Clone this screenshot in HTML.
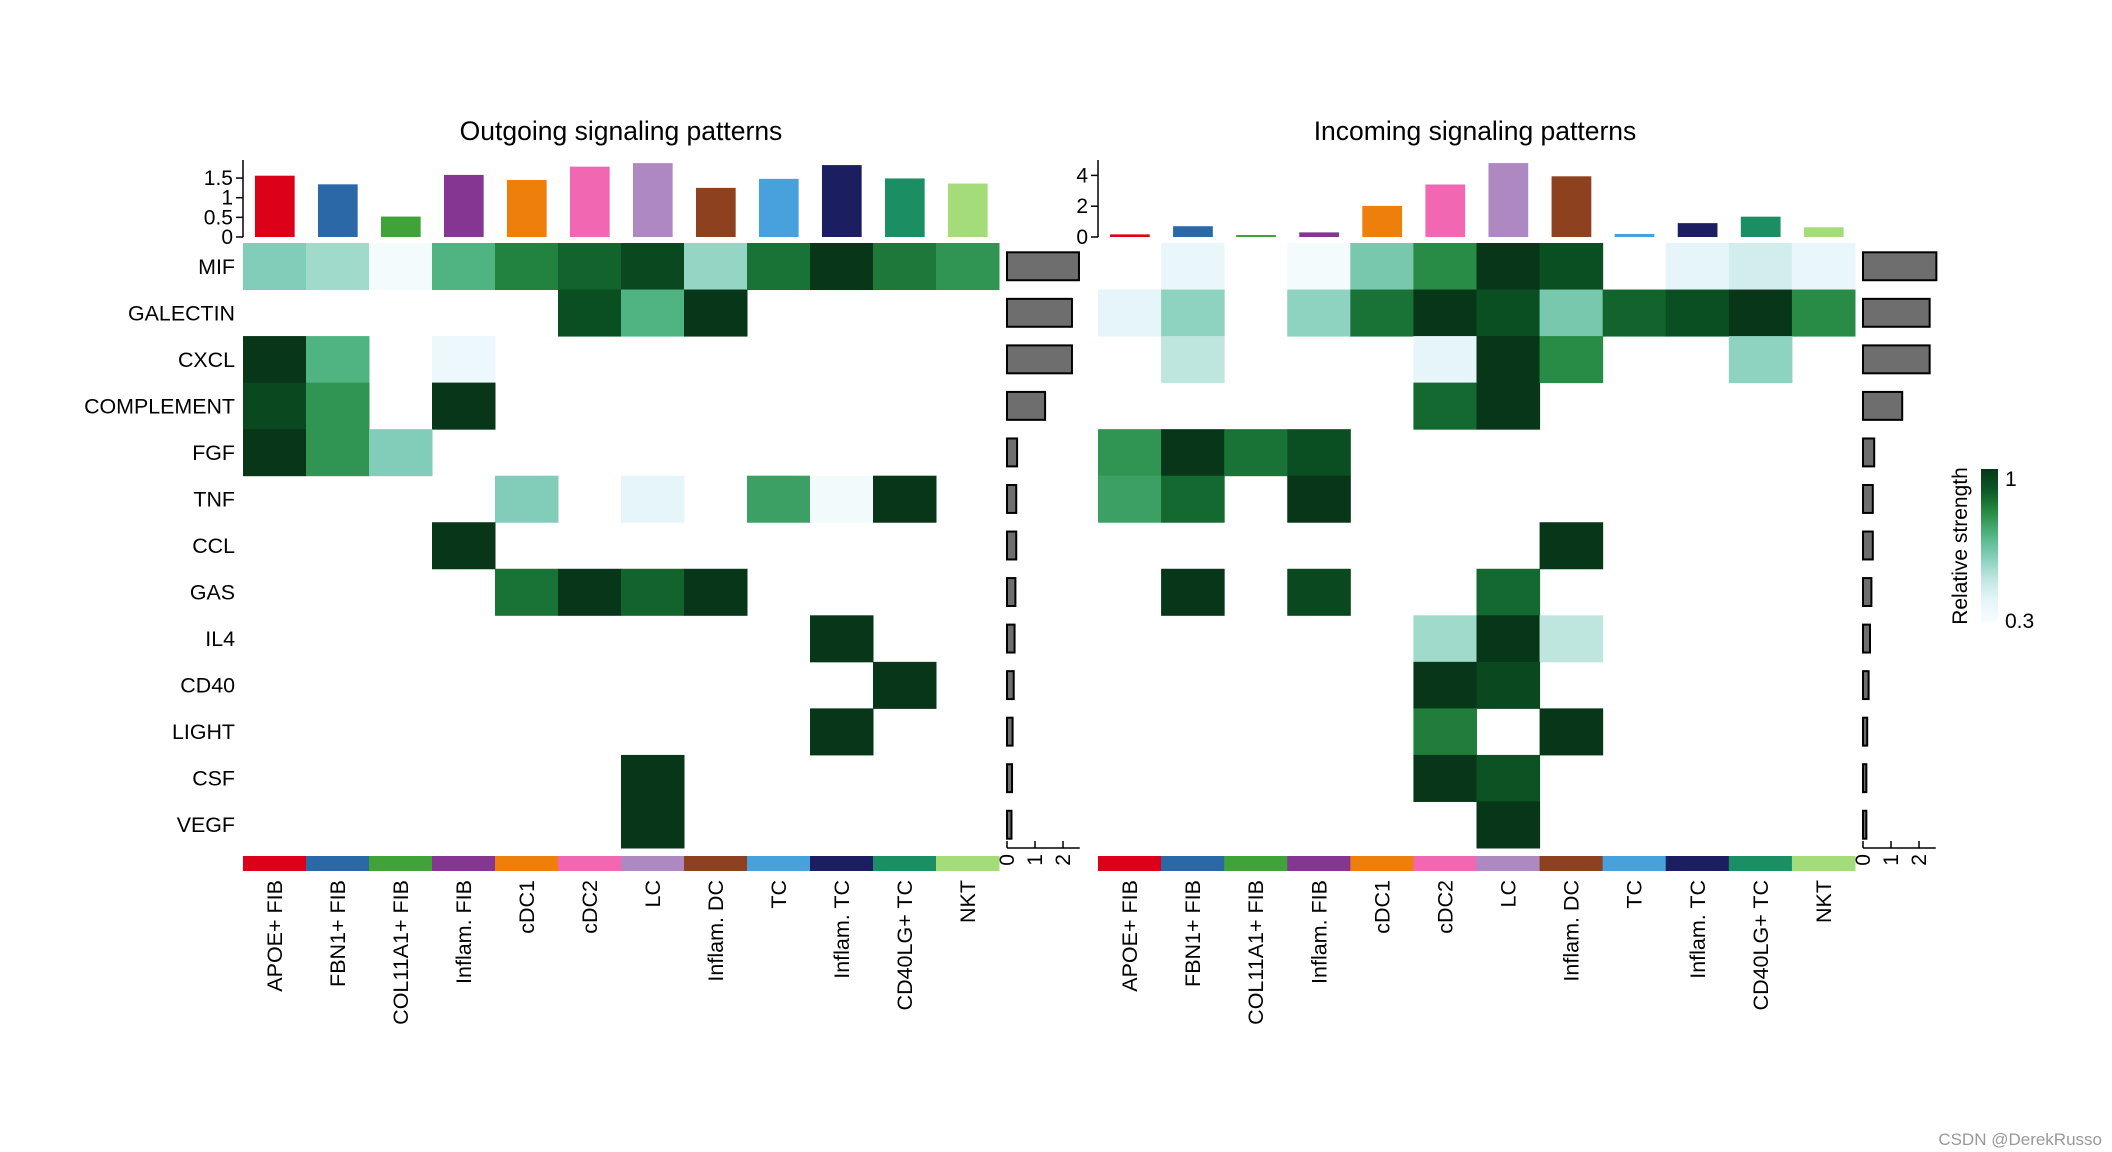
<!DOCTYPE html>
<html><head><meta charset="utf-8"><style>
html,body{margin:0;padding:0;background:#fff;}
svg{display:block;font-family:"Liberation Sans",Arial,sans-serif;}
</style></head><body>
<svg id="chart" width="2112" height="1152" viewBox="0 0 2112 1152" xmlns="http://www.w3.org/2000/svg"></svg>
<script>
const cellTypes = ["APOE+ FIB","FBN1+ FIB","COL11A1+ FIB","Inflam. FIB","cDC1","cDC2","LC","Inflam. DC","TC","Inflam. TC","CD40LG+ TC","NKT"];
const groupColors = ["#dc0019","#2b68a8","#3fa338","#843692","#ee7f0b","#f167b1","#ae89c1","#8e411f","#47a1dc","#1b1f61","#1b8f63","#a5dc7a"];
const pathways = ["MIF","GALECTIN","CXCL","COMPLEMENT","FGF","TNF","CCL","GAS","IL4","CD40","LIGHT","CSF","VEGF"];
const outTop = [1.56,1.34,0.52,1.58,1.45,1.79,1.88,1.25,1.48,1.83,1.49,1.36];
const outSide = [2.57,2.32,2.32,1.36,0.36,0.33,0.33,0.3,0.27,0.24,0.2,0.18,0.16];
const outMatrix = [
 [.6,.55,.32,.7,.82,.88,.95,.57,.85,1,.84,.78],
 [0,0,0,0,0,.93,.7,1,0,0,0,0],
 [1,.7,0,.36,0,0,0,0,0,0,0,0],
 [.95,.78,0,1,0,0,0,0,0,0,0,0],
 [1,.78,.6,0,0,0,0,0,0,0,0,0],
 [0,0,0,0,.6,0,.4,0,.75,.33,1,0],
 [0,0,0,1,0,0,0,0,0,0,0,0],
 [0,0,0,0,.85,1,.88,1,0,0,0,0],
 [0,0,0,0,0,0,0,0,0,1,0,0],
 [0,0,0,0,0,0,0,0,0,0,1,0],
 [0,0,0,0,0,0,0,0,0,1,0,0],
 [0,0,0,0,0,0,1,0,0,0,0,0],
 [0,0,0,0,0,0,1,0,0,0,0,0]];
const inTop = [0.17,0.7,0.1,0.3,2.02,3.41,4.8,3.94,0.2,0.9,1.32,0.63];
const inSide = [2.62,2.38,2.38,1.4,0.4,0.35,0.35,0.3,0.25,0.2,0.15,0.12,0.12];
const inMatrix = [
 [0,.37,0,.32,.62,.8,1,.93,0,.4,.45,.37],
 [.4,.58,0,.58,.85,1,.93,.62,.88,.93,1,.8],
 [0,.5,0,0,0,.4,1,.8,0,0,.58,0],
 [0,0,0,0,0,.87,1,0,0,0,0,0],
 [.78,1,.85,.93,0,0,0,0,0,0,0,0],
 [.75,.87,0,1,0,0,0,0,0,0,0,0],
 [0,0,0,0,0,0,0,1,0,0,0,0],
 [0,1,0,.95,0,0,.87,0,0,0,0,0],
 [0,0,0,0,0,.55,1,.5,0,0,0,0],
 [0,0,0,0,0,1,.95,0,0,0,0,0],
 [0,0,0,0,0,.83,0,1,0,0,0,0],
 [0,0,0,0,0,1,.92,0,0,0,0,0],
 [0,0,0,0,0,0,1,0,0,0,0,0]];
const outTopTicks = [0,0.5,1,1.5];
const inTopTicks = [0,2,4];
const sideTicks = [0,1,2];

const NS="http://www.w3.org/2000/svg";
const svg=document.getElementById('chart');
function mk(tag,attrs,parent,text){const e=document.createElementNS(NS,tag);for(const k in attrs)e.setAttribute(k,attrs[k]);if(text!==undefined)e.textContent=text;(parent||svg).appendChild(e);return e;}
const stops=[[0.3,[247,252,253]],[0.4,[229,245,249]],[0.5,[190,230,222]],[0.6,[130,205,185]],[0.7,[80,180,130]],[0.8,[40,140,70]],[0.9,[12,90,38]],[1,[7,54,25]]];
function color(v){if(v<=0.3)return "rgb(247,252,253)";for(let i=1;i<stops.length;i++){if(v<=stops[i][0]){const a=stops[i-1],b=stops[i];const t=(v-a[0])/(b[0]-a[0]);const c=a[1].map((x,j)=>Math.round(x+(b[1][j]-x)*t));return `rgb(${c})`;}}return "rgb(7,54,25)";}

const top0=243, rowH=(848-243)/13;
function panel(p){
  const g=mk('g',{});
  
  
  const cw=(p.x1-p.x0)/12;
  const t=mk('text',{x:p.tx,y:140,'text-anchor':'middle','font-size':26.5},g,p.title);
  
  const base=237, ys=v=>base-v*p.topScale;
  const ax=mk('line',{x1:p.x0,y1:160,x2:p.x0,y2:base,stroke:'#000','stroke-width':1.5},g);
  
  p.topTicks.forEach(tv=>{mk('line',{x1:p.x0-7,x2:p.x0,y1:ys(tv),y2:ys(tv),stroke:'#000','stroke-width':1.5},g);
    const tl=mk('text',{x:p.x0-10,y:ys(tv)+7,'text-anchor':'end','font-size':21},g,String(tv));
    });
  p.top.forEach((v,i)=>{const h=Math.max(v*p.topScale,2);
    const r=mk('rect',{x:p.x0+i*cw+cw*0.19,y:base-h,width:cw*0.63,height:h,fill:groupColors[i]},g);
    });
  p.matrix.forEach((row,ri)=>row.forEach((v,ci)=>{if(v>0){
    const r=mk('rect',{x:p.x0+ci*cw,y:top0+ri*rowH,width:cw+0.5,height:rowH+0.5,fill:color(v)},g);
    }}));
  cellTypes.forEach((c,i)=>{
    const r=mk('rect',{x:p.x0+i*cw,y:856,width:cw+0.5,height:15,fill:groupColors[i]},g);
    
    const cx=p.x0+(i+0.5)*cw+7.5;
    const l=mk('text',{x:cx,y:880,'text-anchor':'end','font-size':21.5,transform:`rotate(-90 ${cx} 880)`},g,c);
    });
  const sx=v=>p.sx0+v*p.sideScale;
  p.side.forEach((v,i)=>{const r=mk('rect',{x:p.sx0,y:top0+i*rowH+rowH*0.2,width:Math.max(sx(v)-p.sx0,3),height:rowH*0.6,fill:'#6e6e6e',stroke:'#000','stroke-width':2},g);
    });
  mk('line',{x1:p.sx0,x2:sx(2.6),y1:848,y2:848,stroke:'#000','stroke-width':1.5},g);
  sideTicks.forEach(tv=>{mk('line',{x1:sx(tv),x2:sx(tv),y1:841,y2:848,stroke:'#000','stroke-width':1.5},g);
    const x=sx(tv)+7;const tl=mk('text',{x:x,y:854,'text-anchor':'end','font-size':21,transform:`rotate(-90 ${x} 854)`},g,String(tv));
    });
}
panel({name:'outgoing-panel',title:'Outgoing signaling patterns',x0:243,x1:999,tx:621,top:outTop,topScale:39.3,topTicks:outTopTicks,matrix:outMatrix,side:outSide,sx0:1007,sideScale:28});
panel({name:'incoming-panel',title:'Incoming signaling patterns',x0:1098,x1:1855,tx:1475,top:inTop,topScale:15.4,topTicks:inTopTicks,matrix:inMatrix,side:inSide,sx0:1863,sideScale:28});
pathways.forEach((pw,i)=>{const l=mk('text',{x:235,y:top0+(i+0.5)*rowH+7.5,'text-anchor':'end','font-size':21.4},svg,pw);
  });
const defs=mk('defs',{});const lg=mk('linearGradient',{id:'lg',x1:0,y1:1,x2:0,y2:0},defs);
for(let k=0;k<=14;k++){const v=0.3+0.7*k/14;mk('stop',{offset:(k/14),'stop-color':color(v)},lg);}
const leg=mk('g',{});
mk('rect',{x:1981,y:469,width:17,height:153,fill:'url(#lg)'},leg);
mk('text',{x:2005,y:486,'font-size':21},leg,'1');
mk('text',{x:2005,y:628,'font-size':21},leg,'0.3');
mk('text',{x:1967,y:546,'text-anchor':'middle','font-size':21,transform:'rotate(-90 1967 546)'},leg,'Relative strength');
const wm=mk('text',{x:2102,y:1145,'text-anchor':'end','font-size':17,fill:'#999'},svg,'CSDN @DerekRusso');

</script>
</body></html>
